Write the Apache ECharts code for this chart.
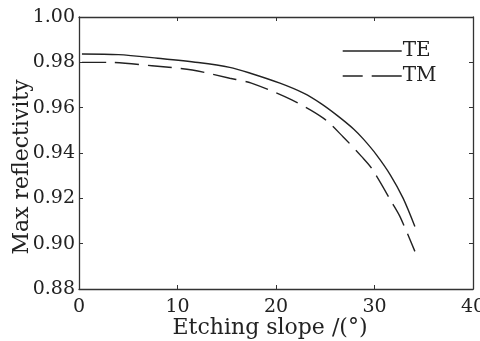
<!DOCTYPE html>
<html>
<head>
<meta charset="utf-8">
<script src="https://cdn.jsdelivr.net/npm/echarts@6/dist/echarts.min.js"></script>
<style>html,body{margin:0;padding:0;background:#fff}#c{width:480px;height:341px}</style>
</head>
<body>
<div id="c"></div>
<script>
var teX = [0.3, 4.0, 8.0, 12.1, 15.3, 17.4, 20.4, 22.8, 24.5, 26.2, 27.9, 28.9, 30.2, 31.6, 32.9, 34.1];
var teY = [0.9837, 0.9834, 0.9818, 0.9799, 0.9778, 0.9752, 0.9708, 0.9664, 0.9620, 0.9566, 0.9505, 0.9460, 0.9392, 0.9304, 0.9201, 0.9076];
var tmX = [0.3, 2.9, 7.4, 11.5, 15.3, 17.5, 21.6, 24.8, 26.8, 28.7, 29.7, 31.8, 32.6, 34.1];
var tmY = [0.9800, 0.9800, 0.9785, 0.9766, 0.9730, 0.9708, 0.9634, 0.9554, 0.9472, 0.9384, 0.9333, 0.9179, 0.9118, 0.8966];
var seriesNames = ['TE', 'TM'];
var xTitle = 'Etching slope /(°)';
var yTitle = 'Max reflectivity';

function pairs(xs, ys) { return xs.map(function (x, i) { return [x, ys[i]]; }); }

var font = 'DejaVu Serif';
var axisColor = '#333';
var dash = [24, 9];
var chart = echarts.init(document.getElementById('c'), null, { renderer: 'canvas' });
var baseAxis = {
  axisLine: { show: true, onZero: false, lineStyle: { color: axisColor, width: 1.3 } },
  axisTick: { show: true, inside: true, length: 4, lineStyle: { color: axisColor, width: 1 } },
  splitLine: { show: false }
};
chart.setOption({
  animation: false,
  backgroundColor: '#fff',
  grid: { left: 79, right: 7, top: 17, bottom: 52, containLabel: false, outerBoundsMode: 'none' },
  legend: {
    data: [
      { name: seriesNames[0], lineStyle: { type: 'solid', width: 1.4 } },
      { name: seriesNames[1], lineStyle: { type: [20, 9, 30, 0], width: 1.4 } }
    ],
    orient: 'vertical',
    left: 337,
    top: 36,
    itemStyle: { color: 'rgba(0,0,0,0)', borderWidth: 0 },
    itemWidth: 59,
    itemHeight: 14,
    itemGap: 5,
    textStyle: { fontFamily: font, fontSize: 20, lineHeight: 20, color: '#222', padding: [0, 0, 0, -4] }
  },
  xAxis: [
    Object.assign({}, baseAxis, {
      type: 'value', min: 0, max: 40, interval: 10,
      name: xTitle, nameLocation: 'middle', nameGap: 28, nameMoveOverlap: false,
      nameTextStyle: { fontFamily: font, fontSize: 22, color: '#222', padding: [0, 12, 0, 0] },
      axisLabel: { fontFamily: font, fontSize: 19, color: '#222', margin: 9 }
    }),
    Object.assign({}, baseAxis, {
      type: 'value', min: 0, max: 40, interval: 10, position: 'top',
      axisLabel: { show: false }
    })
  ],
  yAxis: [
    Object.assign({}, baseAxis, {
      type: 'value', min: 0.88, max: 1.0, interval: 0.02,
      name: yTitle, nameLocation: 'middle', nameGap: 46, nameMoveOverlap: false,
      nameTextStyle: { fontFamily: font, fontSize: 22, color: '#222', padding: [0, 28, 0, 0] },
      axisLabel: { fontFamily: font, fontSize: 19, color: '#222', margin: 4,
        formatter: function (v) { return v.toFixed(2); } }
    }),
    Object.assign({}, baseAxis, {
      type: 'value', min: 0.88, max: 1.0, interval: 0.02, position: 'right',
      axisLabel: { show: false }
    })
  ],
  series: [
    {
      name: seriesNames[0], type: 'line', data: pairs(teX, teY), smooth: 0.3,
      symbol: 'none', lineStyle: { color: '#222', width: 1.4, type: 'solid' },
      itemStyle: { color: '#222' }
    },
    {
      name: seriesNames[1], type: 'line', data: pairs(tmX, tmY), smooth: 0.3,
      symbol: 'none', lineStyle: { color: '#222', width: 1.4, type: dash },
      itemStyle: { color: '#222' }
    }
  ]
});
</script>
</body>
</html>
